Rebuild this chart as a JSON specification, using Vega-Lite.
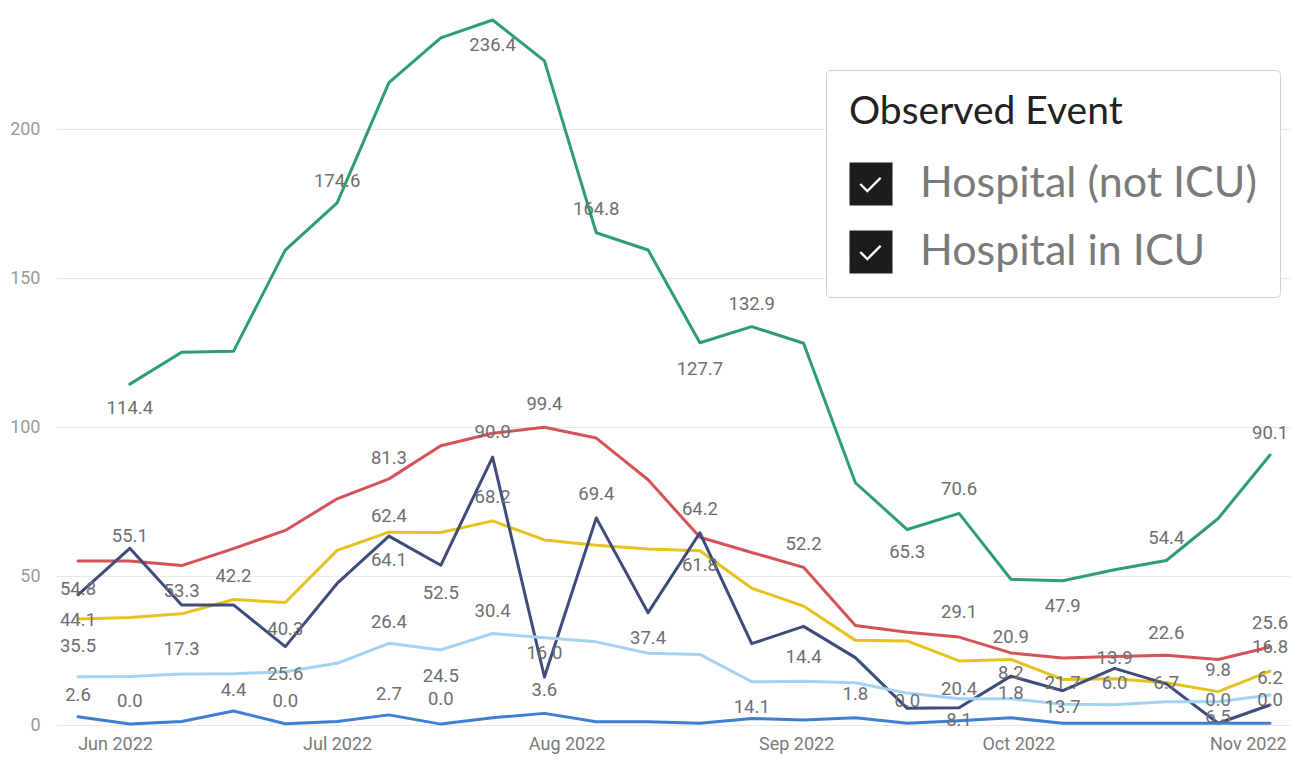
{
  "$schema": "https://vega.github.io/schema/vega-lite/v6.json",
  "width": 1234,
  "height": 722,
  "autosize": {"type": "none"},
  "padding": {"left": 56, "top": 3, "right": 8, "bottom": 35},
  "background": "#ffffff",
  "config": {
    "view": {"stroke": null},
    "axis": {"labelFont": "Roboto", "domain": false, "ticks": false, "title": null}
  },
  "datasets": {
    "series": [
      {"date": "2022-06-03", "series": "A", "value": 114.4},
      {"date": "2022-06-10", "series": "A", "value": 125.1},
      {"date": "2022-06-17", "series": "A", "value": 125.4},
      {"date": "2022-06-24", "series": "A", "value": 159.4},
      {"date": "2022-07-01", "series": "A", "value": 175.2},
      {"date": "2022-07-08", "series": "A", "value": 215.6},
      {"date": "2022-07-15", "series": "A", "value": 230.6},
      {"date": "2022-07-22", "series": "A", "value": 236.6},
      {"date": "2022-07-29", "series": "A", "value": 222.9},
      {"date": "2022-08-05", "series": "A", "value": 165.2},
      {"date": "2022-08-12", "series": "A", "value": 159.4},
      {"date": "2022-08-19", "series": "A", "value": 128.3},
      {"date": "2022-08-26", "series": "A", "value": 133.7},
      {"date": "2022-09-02", "series": "A", "value": 128.1},
      {"date": "2022-09-09", "series": "A", "value": 81.3},
      {"date": "2022-09-16", "series": "A", "value": 65.6},
      {"date": "2022-09-23", "series": "A", "value": 71.0},
      {"date": "2022-09-30", "series": "A", "value": 48.9},
      {"date": "2022-10-07", "series": "A", "value": 48.4},
      {"date": "2022-10-14", "series": "A", "value": 52.1},
      {"date": "2022-10-21", "series": "A", "value": 55.2},
      {"date": "2022-10-28", "series": "A", "value": 69.3},
      {"date": "2022-11-04", "series": "A", "value": 90.6},

      {"date": "2022-05-27", "series": "B", "value": 55.0},
      {"date": "2022-06-03", "series": "B", "value": 55.0},
      {"date": "2022-06-10", "series": "B", "value": 53.5},
      {"date": "2022-06-17", "series": "B", "value": 59.2},
      {"date": "2022-06-24", "series": "B", "value": 65.3},
      {"date": "2022-07-01", "series": "B", "value": 75.9},
      {"date": "2022-07-08", "series": "B", "value": 82.6},
      {"date": "2022-07-15", "series": "B", "value": 93.7},
      {"date": "2022-07-22", "series": "B", "value": 97.9},
      {"date": "2022-07-29", "series": "B", "value": 99.9},
      {"date": "2022-08-05", "series": "B", "value": 96.3},
      {"date": "2022-08-12", "series": "B", "value": 82.3},
      {"date": "2022-08-19", "series": "B", "value": 63.0},
      {"date": "2022-08-26", "series": "B", "value": 57.9},
      {"date": "2022-09-02", "series": "B", "value": 52.9},
      {"date": "2022-09-09", "series": "B", "value": 33.4},
      {"date": "2022-09-16", "series": "B", "value": 31.1},
      {"date": "2022-09-23", "series": "B", "value": 29.5},
      {"date": "2022-09-30", "series": "B", "value": 24.2},
      {"date": "2022-10-07", "series": "B", "value": 22.5},
      {"date": "2022-10-14", "series": "B", "value": 23.0},
      {"date": "2022-10-21", "series": "B", "value": 23.4},
      {"date": "2022-10-28", "series": "B", "value": 22.0},
      {"date": "2022-11-04", "series": "B", "value": 26.2},

      {"date": "2022-05-27", "series": "C", "value": 35.6},
      {"date": "2022-06-03", "series": "C", "value": 36.1},
      {"date": "2022-06-10", "series": "C", "value": 37.3},
      {"date": "2022-06-17", "series": "C", "value": 42.1},
      {"date": "2022-06-24", "series": "C", "value": 41.1},
      {"date": "2022-07-01", "series": "C", "value": 58.6},
      {"date": "2022-07-08", "series": "C", "value": 64.7},
      {"date": "2022-07-15", "series": "C", "value": 64.6},
      {"date": "2022-07-22", "series": "C", "value": 68.5},
      {"date": "2022-07-29", "series": "C", "value": 62.1},
      {"date": "2022-08-05", "series": "C", "value": 60.3},
      {"date": "2022-08-12", "series": "C", "value": 59.1},
      {"date": "2022-08-19", "series": "C", "value": 58.5},
      {"date": "2022-08-26", "series": "C", "value": 45.9},
      {"date": "2022-09-02", "series": "C", "value": 39.9},
      {"date": "2022-09-09", "series": "C", "value": 28.4},
      {"date": "2022-09-16", "series": "C", "value": 28.2},
      {"date": "2022-09-23", "series": "C", "value": 21.5},
      {"date": "2022-09-30", "series": "C", "value": 22.0},
      {"date": "2022-10-07", "series": "C", "value": 15.3},
      {"date": "2022-10-14", "series": "C", "value": 15.5},
      {"date": "2022-10-21", "series": "C", "value": 14.2},
      {"date": "2022-10-28", "series": "C", "value": 11.2},
      {"date": "2022-11-04", "series": "C", "value": 18.1},

      {"date": "2022-05-27", "series": "D", "value": 43.7},
      {"date": "2022-06-03", "series": "D", "value": 59.3},
      {"date": "2022-06-10", "series": "D", "value": 40.3},
      {"date": "2022-06-17", "series": "D", "value": 40.3},
      {"date": "2022-06-24", "series": "D", "value": 26.3},
      {"date": "2022-07-01", "series": "D", "value": 47.5},
      {"date": "2022-07-08", "series": "D", "value": 63.4},
      {"date": "2022-07-15", "series": "D", "value": 53.6},
      {"date": "2022-07-22", "series": "D", "value": 89.9},
      {"date": "2022-07-29", "series": "D", "value": 16.1},
      {"date": "2022-08-05", "series": "D", "value": 69.5},
      {"date": "2022-08-12", "series": "D", "value": 37.7},
      {"date": "2022-08-19", "series": "D", "value": 64.5},
      {"date": "2022-08-26", "series": "D", "value": 27.3},
      {"date": "2022-09-02", "series": "D", "value": 33.1},
      {"date": "2022-09-09", "series": "D", "value": 22.6},
      {"date": "2022-09-16", "series": "D", "value": 5.6},
      {"date": "2022-09-23", "series": "D", "value": 5.8},
      {"date": "2022-09-30", "series": "D", "value": 16.4},
      {"date": "2022-10-07", "series": "D", "value": 11.5},
      {"date": "2022-10-14", "series": "D", "value": 19.0},
      {"date": "2022-10-21", "series": "D", "value": 13.8},
      {"date": "2022-10-28", "series": "D", "value": 0.6},
      {"date": "2022-11-04", "series": "D", "value": 6.7},

      {"date": "2022-05-27", "series": "E", "value": 16.2},
      {"date": "2022-06-03", "series": "E", "value": 16.3},
      {"date": "2022-06-10", "series": "E", "value": 17.1},
      {"date": "2022-06-17", "series": "E", "value": 17.2},
      {"date": "2022-06-24", "series": "E", "value": 17.9},
      {"date": "2022-07-01", "series": "E", "value": 20.7},
      {"date": "2022-07-08", "series": "E", "value": 27.4},
      {"date": "2022-07-15", "series": "E", "value": 25.2},
      {"date": "2022-07-22", "series": "E", "value": 30.7},
      {"date": "2022-07-29", "series": "E", "value": 29.3},
      {"date": "2022-08-05", "series": "E", "value": 27.9},
      {"date": "2022-08-12", "series": "E", "value": 24.1},
      {"date": "2022-08-19", "series": "E", "value": 23.7},
      {"date": "2022-08-26", "series": "E", "value": 14.5},
      {"date": "2022-09-02", "series": "E", "value": 14.7},
      {"date": "2022-09-09", "series": "E", "value": 14.2},
      {"date": "2022-09-16", "series": "E", "value": 10.7},
      {"date": "2022-09-23", "series": "E", "value": 8.8},
      {"date": "2022-09-30", "series": "E", "value": 8.8},
      {"date": "2022-10-07", "series": "E", "value": 7.0},
      {"date": "2022-10-14", "series": "E", "value": 6.8},
      {"date": "2022-10-21", "series": "E", "value": 7.8},
      {"date": "2022-10-28", "series": "E", "value": 7.8},
      {"date": "2022-11-04", "series": "E", "value": 10.1},

      {"date": "2022-05-27", "series": "F", "value": 2.8},
      {"date": "2022-06-03", "series": "F", "value": 0.3},
      {"date": "2022-06-10", "series": "F", "value": 1.2},
      {"date": "2022-06-17", "series": "F", "value": 4.7},
      {"date": "2022-06-24", "series": "F", "value": 0.4},
      {"date": "2022-07-01", "series": "F", "value": 1.2},
      {"date": "2022-07-08", "series": "F", "value": 3.4},
      {"date": "2022-07-15", "series": "F", "value": 0.3},
      {"date": "2022-07-22", "series": "F", "value": 2.4},
      {"date": "2022-07-29", "series": "F", "value": 3.9},
      {"date": "2022-08-05", "series": "F", "value": 1.1},
      {"date": "2022-08-12", "series": "F", "value": 1.1},
      {"date": "2022-08-19", "series": "F", "value": 0.6},
      {"date": "2022-08-26", "series": "F", "value": 2.2},
      {"date": "2022-09-02", "series": "F", "value": 1.7},
      {"date": "2022-09-09", "series": "F", "value": 2.4},
      {"date": "2022-09-16", "series": "F", "value": 0.6},
      {"date": "2022-09-23", "series": "F", "value": 1.4},
      {"date": "2022-09-30", "series": "F", "value": 2.4},
      {"date": "2022-10-07", "series": "F", "value": 0.6},
      {"date": "2022-10-14", "series": "F", "value": 0.6},
      {"date": "2022-10-21", "series": "F", "value": 0.6},
      {"date": "2022-10-28", "series": "F", "value": 0.6},
      {"date": "2022-11-04", "series": "F", "value": 0.6}
    ],
    "labels": [
      {"date": "2022-06-03", "at": 106.4, "label": "114.4"},
      {"date": "2022-07-01", "at": 182.6, "label": "174.6"},
      {"date": "2022-07-22", "at": 228.2, "label": "236.4"},
      {"date": "2022-08-05", "at": 173.2, "label": "164.8"},
      {"date": "2022-08-19", "at": 119.6, "label": "127.7"},
      {"date": "2022-08-26", "at": 141.3, "label": "132.9"},
      {"date": "2022-09-16", "at": 58.1, "label": "65.3"},
      {"date": "2022-09-23", "at": 79.2, "label": "70.6"},
      {"date": "2022-10-07", "at": 39.9, "label": "47.9"},
      {"date": "2022-10-21", "at": 62.8, "label": "54.4"},
      {"date": "2022-11-04", "at": 98.0, "label": "90.1"},
      {"date": "2022-05-27", "at": 45.6, "label": "54.8"},
      {"date": "2022-06-03", "at": 63.4, "label": "55.1"},
      {"date": "2022-06-10", "at": 45.0, "label": "53.3"},
      {"date": "2022-06-17", "at": 50.0, "label": "42.2"},
      {"date": "2022-05-27", "at": 35.2, "label": "44.1"},
      {"date": "2022-05-27", "at": 26.5, "label": "35.5"},
      {"date": "2022-06-10", "at": 25.5, "label": "17.3"},
      {"date": "2022-06-24", "at": 32.2, "label": "40.3"},
      {"date": "2022-06-24", "at": 17.1, "label": "25.6"},
      {"date": "2022-05-27", "at": 10.1, "label": "2.6"},
      {"date": "2022-06-03", "at": 8.1, "label": "0.0"},
      {"date": "2022-06-17", "at": 11.7, "label": "4.4"},
      {"date": "2022-06-24", "at": 8.1, "label": "0.0"},
      {"date": "2022-07-08", "at": 70.1, "label": "62.4"},
      {"date": "2022-07-08", "at": 55.4, "label": "64.1"},
      {"date": "2022-07-08", "at": 34.6, "label": "26.4"},
      {"date": "2022-07-08", "at": 10.4, "label": "2.7"},
      {"date": "2022-07-08", "at": 89.6, "label": "81.3"},
      {"date": "2022-07-15", "at": 44.3, "label": "52.5"},
      {"date": "2022-07-15", "at": 16.4, "label": "24.5"},
      {"date": "2022-07-15", "at": 8.7, "label": "0.0"},
      {"date": "2022-07-22", "at": 98.3, "label": "90.0"},
      {"date": "2022-07-22", "at": 76.5, "label": "68.2"},
      {"date": "2022-07-22", "at": 38.3, "label": "30.4"},
      {"date": "2022-07-29", "at": 107.7, "label": "99.4"},
      {"date": "2022-07-29", "at": 24.2, "label": "16.0"},
      {"date": "2022-07-29", "at": 11.7, "label": "3.6"},
      {"date": "2022-08-05", "at": 77.5, "label": "69.4"},
      {"date": "2022-08-12", "at": 29.2, "label": "37.4"},
      {"date": "2022-08-19", "at": 72.5, "label": "64.2"},
      {"date": "2022-08-19", "at": 53.7, "label": "61.8"},
      {"date": "2022-08-26", "at": 6.0, "label": "14.1"},
      {"date": "2022-09-02", "at": 60.7, "label": "52.2"},
      {"date": "2022-09-02", "at": 22.8, "label": "14.4"},
      {"date": "2022-09-09", "at": 10.4, "label": "1.8"},
      {"date": "2022-09-16", "at": 8.1, "label": "0.0"},
      {"date": "2022-09-23", "at": 37.9, "label": "29.1"},
      {"date": "2022-09-23", "at": 12.1, "label": "20.4"},
      {"date": "2022-09-23", "at": 1.7, "label": "8.1"},
      {"date": "2022-09-30", "at": 29.5, "label": "20.9"},
      {"date": "2022-09-30", "at": 17.4, "label": "8.2"},
      {"date": "2022-09-30", "at": 10.7, "label": "1.8"},
      {"date": "2022-10-07", "at": 14.1, "label": "21.7"},
      {"date": "2022-10-07", "at": 6.0, "label": "13.7"},
      {"date": "2022-10-14", "at": 22.5, "label": "13.9"},
      {"date": "2022-10-14", "at": 14.1, "label": "6.0"},
      {"date": "2022-10-21", "at": 30.9, "label": "22.6"},
      {"date": "2022-10-21", "at": 14.1, "label": "6.7"},
      {"date": "2022-10-28", "at": 18.5, "label": "9.8"},
      {"date": "2022-10-28", "at": 8.4, "label": "0.0"},
      {"date": "2022-10-28", "at": 2.7, "label": "6.5"},
      {"date": "2022-11-04", "at": 34.2, "label": "25.6"},
      {"date": "2022-11-04", "at": 26.2, "label": "16.8"},
      {"date": "2022-11-04", "at": 15.8, "label": "6.2"},
      {"date": "2022-11-04", "at": 8.4, "label": "0.0"}
    ],
    "events": [
      {"event": "Hospital (not ICU)"},
      {"event": "Hospital in ICU"}
    ]
  },
  "layer": [
    {
      "data": {"name": "series"},
      "mark": {"type": "line", "strokeWidth": 3, "strokeJoin": "round", "strokeCap": "round"},
      "encoding": {
        "x": {
          "field": "date", "type": "temporal",
          "scale": {"type": "utc", "domain": [1653352992000, 1667753280000]},
          "axis": {
            "labelExpr": "utcFormat(datum.value, '%b %Y')",
            "tickCount": {"interval": "month", "step": 1},
            "grid": false, "labelFontSize": 18, "labelColor": "#7a7a7a",
            "labelPadding": 10, "labelFlush": false, "labelOverlap": false
          }
        },
        "y": {
          "field": "value", "type": "quantitative",
          "scale": {"domain": [0, 242.3], "nice": false},
          "axis": {
            "values": [0, 50, 100, 150, 200],
            "grid": true, "gridColor": "#e8e8e8", "gridWidth": 1,
            "labelFontSize": 18, "labelColor": "#9a9a9a", "labelPadding": 16
          }
        },
        "stroke": {
          "field": "series", "type": "nominal",
          "scale": {
            "domain": ["A", "B", "C", "D", "E", "F"],
            "range": ["#2f9d74", "#d6525a", "#e6c21f", "#3f4b7a", "#a3d2f2", "#3e7ed3"]
          },
          "legend": null
        }
      }
    },
    {
      "data": {"name": "labels"},
      "mark": {"type": "text", "font": "Roboto", "fontSize": 18.5, "fill": "#6e6e6e", "align": "center", "baseline": "middle"},
      "encoding": {
        "x": {"field": "date", "type": "temporal"},
        "y": {"field": "at", "type": "quantitative"},
        "text": {"field": "label", "type": "nominal"}
      }
    },
    {
      "data": {"name": "events"},
      "mark": {"type": "point", "filled": true, "opacity": 0},
      "encoding": {
        "fill": {
          "field": "event", "type": "nominal",
          "scale": {"domain": ["Hospital (not ICU)", "Hospital in ICU"], "range": ["#1c1c1c", "#1c1c1c"]},
          "legend": {
            "title": "Observed Event",
            "orient": "none", "legendX": 770, "legendY": 67,
            "fillColor": "#ffffff", "strokeColor": "#d3d3d3", "cornerRadius": 4, "padding": 23,
            "titleFont": "Lato", "titleFontSize": 39, "titleFontWeight": "normal", "titleColor": "#222222",
            "titlePadding": 30, "titleLimit": 600,
            "labelFont": "Lato", "labelFontSize": 43, "labelColor": "#7a7a7a", "labelLimit": 600, "labelOffset": 27,
            "symbolType": "M-1,-1L1,-1L1,1L-1,1Z M-0.54,0.04L-0.17,0.41L0.49,-0.25L0.41,-0.33L-0.17,0.25L-0.46,-0.04Z",
            "symbolSize": 1850, "symbolStrokeWidth": 0, "symbolOpacity": 1,
            "rowPadding": 24
          }
        }
      }
    }
  ]
}
